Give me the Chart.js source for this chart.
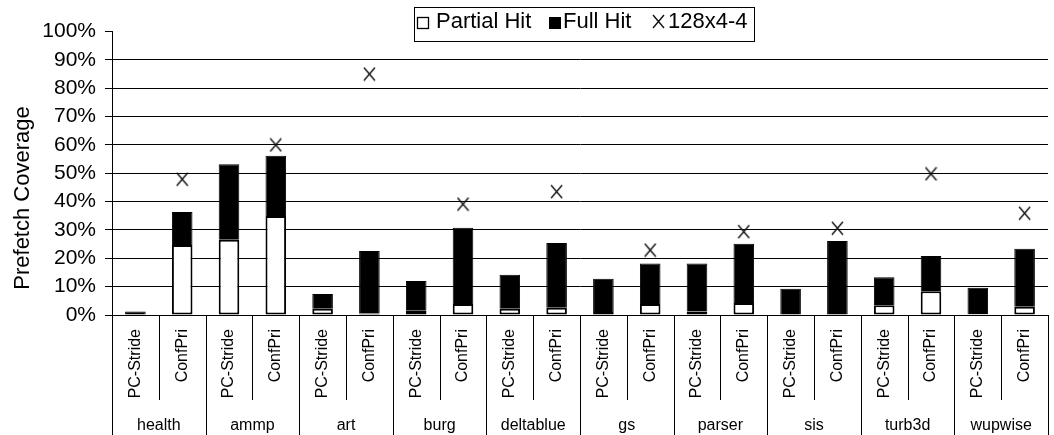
<!DOCTYPE html>
<html>
<head>
<meta charset="utf-8">
<script src="https://cdn.jsdelivr.net/npm/chart.js@4.4.1/dist/chart.umd.min.js"></script>
<style>
  html, body { margin: 0; padding: 0; background: #fff; overflow: hidden; }
  #wrap { width: 1058px; height: 435px; }
</style>
</head>
<body>
<div id="wrap"><canvas id="grafico"></canvas></div>
<script>
// benchmarks e esquemas (dois niveis no eixo x)
const grupos = ['health', 'ammp', 'art', 'burg', 'deltablue', 'gs', 'parser', 'sis', 'turb3d', 'wupwise'];
const esquemas = ['PC-Stride', 'ConfPri'];
const categorias = grupos.flatMap(() => esquemas);

// valores em %, na ordem de categorias
const partialHit = [0, 24.7, 26.5, 34.9, 2.2, 0.5, 1.5, 3.9, 2.2, 2.6, 1.1, 3.9, 1.2, 4.2, 0, 0, 3.4, 8.4, 0.3, 2.9];
const fullHit = [1.2, 11.6, 26.7, 21.3, 5.2, 22.1, 10.5, 26.9, 12.0, 22.8, 11.7, 14.3, 17.0, 20.9, 9.3, 26.1, 9.9, 12.4, 9.3, 20.5];
const ref128x4 = [null, 47.9, null, 60.0, null, 85.0, null, 39.1, null, 43.5, null, 22.9, null, 29.4, null, 30.6, null, 49.8, null, 35.9];

const yTicks = [0, 10, 20, 30, 40, 50, 60, 70, 80, 90, 100];

const fonte = '"Liberation Sans", Arial, sans-serif';

// marcador "X" um pouco mais alto que largo
function criarX(w, h) {
    const c = document.createElement('canvas');
    c.width = w; c.height = h;
    const g = c.getContext('2d');
    g.strokeStyle = '#111';
    g.lineWidth = 1.4;
    g.beginPath();
    g.moveTo(1, 1); g.lineTo(w - 1, h - 1);
    g.moveTo(w - 1, 1); g.lineTo(1, h - 1);
    g.stroke();
    return c;
}
const marcaX = criarX(13, 15);

// linhas divisórias do eixo x em dois níveis
const divisorias = {
    id: 'divisorias',
    afterDraw(chart) {
        const xs = chart.scales.x;
        const ctx = chart.ctx;
        const n = categorias.length;
        const slot = (xs.right - xs.left) / n;
        ctx.save();
        ctx.strokeStyle = '#000';
        ctx.lineWidth = 1;
        for (let i = 0; i <= n; i++) {
            const px = Math.round(xs.left + i * slot) + 0.5;
            const fim = i % 2 === 0 ? chart.height : 400;
            ctx.beginPath();
            ctx.moveTo(px, xs.top);
            ctx.lineTo(px, fim);
            ctx.stroke();
        }
        ctx.restore();
    }
};

// título do eixo y (fora do centro, como no original)
const tituloY = {
    id: 'tituloY',
    afterDraw(chart) {
        const ctx = chart.ctx;
        ctx.save();
        ctx.translate(23, 198);
        ctx.rotate(-Math.PI / 2);
        ctx.font = '22px ' + fonte;
        ctx.fillStyle = '#000';
        ctx.textAlign = 'center';
        ctx.textBaseline = 'middle';
        ctx.fillText('Prefetch Coverage', 0, 0);
        ctx.restore();
    }
};

// legenda com moldura sobre a área do gráfico
const legendaCaixa = {
    id: 'legendaCaixa',
    afterDraw(chart) {
        const ctx = chart.ctx;
        const ds = chart.data.datasets;
        ctx.save();
        ctx.fillStyle = '#fff';
        ctx.fillRect(414, 7, 340, 34);
        ctx.strokeStyle = '#000';
        ctx.lineWidth = 1;
        ctx.strokeRect(414.5, 7.5, 340, 34);

        ctx.font = '22px ' + fonte;
        ctx.textBaseline = 'alphabetic';

        ctx.fillStyle = '#fff';
        ctx.fillRect(417, 17, 11, 11);
        ctx.lineWidth = 1.3;
        ctx.strokeRect(417.5, 17.5, 11, 11);
        ctx.fillStyle = '#000';
        ctx.fillText(ds[0].label, 436, 28);

        ctx.fillRect(549, 17, 12, 12);
        ctx.fillText(ds[1].label, 563, 28);

        ctx.drawImage(marcaX, 652, 14);
        ctx.fillText(ds[2].label, 668, 28);
        ctx.restore();
    }
};

// sem linha de grade em 0% e 100%
const corGrade = yTicks.map(v => (v === 0 || v === 100) ? 'rgba(0,0,0,0)' : '#000');

const ctx = document.getElementById('grafico').getContext('2d');

window.coberturaChart = new Chart(ctx, {
    data: {
        labels: categorias,
        datasets: [
            {
                type: 'bar', label: 'Partial Hit', data: partialHit,
                backgroundColor: '#fff', borderColor: '#000', borderWidth: 2, borderSkipped: false,
                barPercentage: 0.44, categoryPercentage: 1, order: 2
            },
            {
                type: 'bar', label: 'Full Hit', data: fullHit,
                backgroundColor: '#000', borderColor: '#000', borderWidth: 1,
                barPercentage: 0.44, categoryPercentage: 1, order: 2
            },
            {
                type: 'line', label: '128x4-4', data: ref128x4, stack: 'marca',
                showLine: false, pointStyle: marcaX, pointRadius: 7, order: 1
            }
        ]
    },
    options: {
        responsive: true, maintainAspectRatio: false, animation: false,
        layout: { padding: { top: 31.5, right: 0, bottom: 0, left: 0 } },
        plugins: { legend: { display: false }, tooltip: { enabled: false } },
        scales: {
            x: {
                type: 'category', stacked: true, offset: true,
                grid: { display: true, drawOnChartArea: false, drawTicks: false },
                border: { display: true, color: '#000', width: 1 },
                ticks: {
                    minRotation: 90, maxRotation: 90, autoSkip: false, padding: 14,
                    color: '#000', font: { family: fonte, size: 16 }
                },
                afterFit: s => { s.height = 85; }
            },
            x2: {
                type: 'category', labels: grupos, position: 'bottom', offset: true,
                grid: { display: false }, border: { display: false },
                ticks: { padding: 8, autoSkip: false, maxRotation: 0, color: '#000', font: { family: fonte, size: 16 } },
                afterFit: s => { s.height = 35; }
            },
            y: {
                stacked: true, min: 0, max: 100,
                afterBuildTicks: s => { s.ticks = yTicks.map(v => ({ value: v })); },
                ticks: { callback: v => v + '%', padding: 9, color: '#000', font: { family: fonte, size: 21 } },
                grid: {
                    display: true, drawOnChartArea: true,
                    color: corGrade, tickColor: '#000', tickLength: 7, lineWidth: 1
                },
                border: { display: true, color: '#000', width: 1 },
                afterFit: s => { s.width = 112; }
            }
        }
    },
    plugins: [divisorias, tituloY, legendaCaixa]
});
</script>
</body>
</html>
